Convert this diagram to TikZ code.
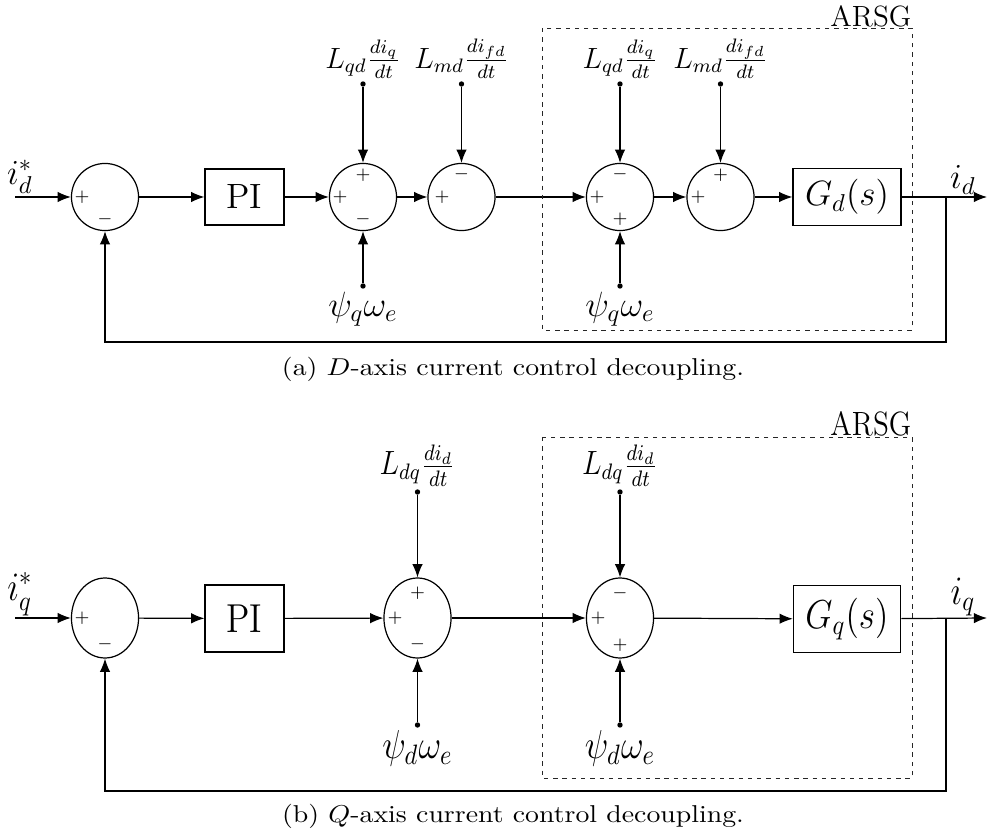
\documentclass[tikz,border=0pt]{standalone}
\usetikzlibrary{arrows.meta,shapes.geometric}
\newcommand{\vs}[1]{\scalebox{1}[1.15]{#1}}
\newcommand{\capw}[1]{\scalebox{1.14}[1]{#1}}
\begin{document}
\begin{tikzpicture}[x=0.41pt,y=-0.41pt,
  line width=0.5pt,
  arr/.style={-{Latex[length=5.4pt,width=4.3pt]}},
  sumc/.style={draw,circle,minimum size=27.5pt,inner sep=0pt},
  sume/.style={draw,ellipse,minimum width=27.5pt,minimum height=32.8pt,inner sep=0pt},
  blk/.style={draw,rectangle,inner sep=0pt,font=\Large},
  dotn/.style={circle,fill,inner sep=0pt,minimum size=2.2pt},
  sgn/.style={font=\scriptsize,inner sep=0pt},
  lbl/.style={font=\large,inner sep=0.8pt},
  iolbl/.style={font=\Large,inner sep=0pt},
  dashbox/.style={draw=black!85,line width=0.4pt,dash pattern=on 1.8pt off 2pt},
]
\useasboundingbox (0,0) rectangle (988,836);

% ================= (a) D-axis =================
\node[sumc] (a1) at (105,197) {};
\node[blk,minimum width=32.4pt,minimum height=23pt] (apI) at (244.5,197) {PI};
\node[sumc] (a2) at (363,197) {};
\node[sumc] (a3) at (461.5,197) {};
\node[sumc] (a4) at (620,197) {};
\node[sumc] (a5) at (720.5,197) {};
\node[blk,minimum width=44.3pt,minimum height=23.4pt] (aG) at (847,197) {$G_d(s)$};

\coordinate (ain) at (15,197);
\node[iolbl] (ainl) at (20,177) {$i_d^*$};
\coordinate (abr) at (946,197);
\coordinate (aout) at (987,197);
\node[iolbl] (aoutl) at (963,180) {$i_d$};
\coordinate (afb) at (946,342);

% signs
\node[sgn] at (82,197) {$+$};
\node[sgn] at (105,219) {$-$};
\node[sgn] at (340,197) {$+$};
\node[sgn] at (363,175) {$+$};
\node[sgn] at (363,219) {$-$};
\node[sgn] at (442,197) {$+$};
\node[sgn] at (461.5,174) {$-$};
\node[sgn] at (597,197) {$+$};
\node[sgn] at (620,174) {$-$};
\node[sgn] at (620,219) {$+$};
\node[sgn] at (698,197) {$+$};
\node[sgn] at (720.5,175) {$+$};

% disturbance dots and labels
\node[dotn] (ad2t) at (363,84) {};
\node[dotn] (ad3t) at (461.5,84) {};
\node[dotn] (ad4t) at (620,84) {};
\node[dotn] (ad5t) at (720.5,84) {};
\node[dotn] (ad2b) at (363,286) {};
\node[dotn] (ad4b) at (620,286) {};
\node[lbl,anchor=south] at (ad2t.north) {$L_{qd}\frac{di_q}{dt}$};
\node[lbl,anchor=south] at (ad3t.north) {$L_{md}\frac{di_{fd}}{dt}$};
\node[lbl,anchor=south] at (ad4t.north) {$L_{qd}\frac{di_q}{dt}$};
\node[lbl,anchor=south] at (ad5t.north) {$L_{md}\frac{di_{fd}}{dt}$};
\node[lbl,anchor=north,font=\Large] at (ad2b.south) {$\psi_q\omega_e$};
\node[lbl,anchor=north,font=\Large] at (ad4b.south) {$\psi_q\omega_e$};

% connectors
\draw[arr] (ain) -- (a1);
\draw[arr] (a1) -- (apI);
\draw[arr] (apI) -- (a2);
\draw[arr] (a2) -- (a3);
\draw[arr] (a3) -- (a4);
\draw[arr] (a4) -- (a5);
\draw[arr] (a5) -- (aG);
\draw[arr] (aG) -- (aout);
\draw[arr] (abr) -- (afb) -| (a1);
\draw[arr] (ad2t) -- (a2);
\draw[arr] (ad3t) -- (a3);
\draw[arr] (ad4t) -- (a4);
\draw[arr] (ad5t) -- (a5);
\draw[arr] (ad2b) -- (a2);
\draw[arr] (ad4b) -- (a4);

% ARSG box
\draw[dashbox] (542,28) rectangle (912,330);
\node[anchor=base east,inner sep=0pt,font=\large] (aARSG) at (912,27) {ARSG};

\node[inner sep=0pt] (capa) at (513,369) {\capw{(a) $D$-axis current control decoupling.}};

% ================= (b) Q-axis =================
\node[sume] (b1) at (105,618) {};
\node[blk,minimum width=32.4pt,minimum height=27.5pt] (bpI) at (244.5,618.5) {\vs{PI}};
\node[sume] (b2) at (417.5,618) {};
\node[sume] (b3) at (620,618) {};
\node[blk,minimum width=44pt,minimum height=27.5pt] (bG) at (847,619) {\vs{$G_q(s)$}};

\coordinate (bin) at (15,618);
\node[iolbl] (binl) at (20,594) {\vs{$i_q^*$}};
\coordinate (bbr) at (946,618);
\coordinate (bout) at (987,618);
\node[iolbl] (boutl) at (963,597) {\vs{$i_q$}};
\coordinate (bfb) at (946,791);

\node[sgn] at (82,618) {$+$};
\node[sgn] at (105,644) {$-$};
\node[sgn] at (395,618) {$+$};
\node[sgn] at (417.5,593) {$+$};
\node[sgn] at (417.5,644) {$-$};
\node[sgn] at (598,618) {$+$};
\node[sgn] at (620,593) {$-$};
\node[sgn] at (620,645) {$+$};

\node[dotn] (bd2t) at (417.5,492) {};
\node[dotn] (bd3t) at (620,492) {};
\node[dotn] (bd2b) at (417.5,725) {};
\node[dotn] (bd3b) at (620,725) {};
\node[lbl,anchor=south] at (bd2t.north) {\vs{$L_{dq}\frac{di_d}{dt}$}};
\node[lbl,anchor=south] at (bd3t.north) {\vs{$L_{dq}\frac{di_d}{dt}$}};
\node[lbl,anchor=north,font=\Large] at (bd2b.south) {\vs{$\psi_d\omega_e$}};
\node[lbl,anchor=north,font=\Large] at (bd3b.south) {\vs{$\psi_d\omega_e$}};

\draw[arr] (bin) -- (b1);
\draw[arr] (b1) -- (bpI);
\draw[arr] (bpI) -- (b2);
\draw[arr] (b2) -- (b3);
\draw[arr] (b3) -- (bG);
\draw[arr] (bG) -- (bout);
\draw[arr] (bbr) -- (bfb) -| (b1);
\draw[arr] (bd2t) -- (b2);
\draw[arr] (bd3t) -- (b3);
\draw[arr] (bd2b) -- (b2);
\draw[arr] (bd3b) -- (b3);

\draw[dashbox] (542,437) rectangle (912,778);
\node[anchor=base east,inner sep=0pt,font=\large] (bARSG) at (912,436) {\vs{ARSG}};

\node[inner sep=0pt] (capb) at (513,816) {\capw{(b) $Q$-axis current control decoupling.}};
\end{tikzpicture}
\end{document}
